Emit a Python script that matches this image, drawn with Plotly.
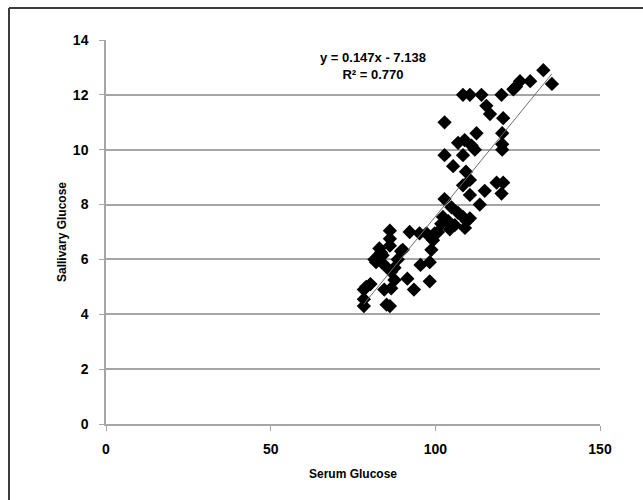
import plotly.graph_objects as go

serum = [132.8, 135.4, 128.8, 125.7, 123.7, 124.5, 120.1, 108.4, 110.5, 114.0,
         115.5, 116.6, 120.6, 112.5, 102.8, 108.9, 106.9, 111.0, 112.0, 108.4,
         102.8, 120.3, 120.3, 120.3, 105.4, 109.3, 110.5, 108.4, 115.0, 118.6,
         120.6, 120.1, 110.5, 113.5, 102.8, 104.9, 106.9, 108.4, 110.5, 102.3,
         103.9, 105.9, 104.4, 109.0, 109.5, 101.8, 100.8, 99.3, 99.8, 97.3,
         95.2, 92.2, 98.8, 86.2, 86.2, 86.2, 90.1, 89.6, 83.0, 83.5,
         81.5, 84.5, 88.6, 87.6, 86.6, 95.5, 98.3, 91.5, 87.6, 98.3,
         93.5, 80.3, 79.0, 78.3, 84.5, 86.6, 78.3, 78.3, 85.2, 86.2,
         82.0, 84.0]
saliva = [12.9, 12.4, 12.5, 12.5, 12.2, 12.3, 12.0, 12.0, 12.0, 12.0,
          11.6, 11.3, 11.15, 10.6, 11.0, 10.35, 10.25, 10.15, 10.0, 9.8,
          9.8, 10.6, 10.2, 10.0, 9.4, 9.2, 8.9, 8.7, 8.5, 8.8,
          8.8, 8.4, 8.35, 8.0, 8.2, 7.9, 7.7, 7.55, 7.5, 7.55,
          7.4, 7.25, 7.1, 7.15, 7.4, 7.3, 7.0, 6.7, 6.95, 6.95,
          6.95, 7.0, 6.35, 7.05, 6.75, 6.5, 6.35, 6.3, 6.4, 6.25,
          6.0, 5.8, 6.0, 5.7, 5.55, 5.8, 5.9, 5.3, 5.25, 5.2,
          4.9, 5.1, 5.0, 4.9, 4.9, 4.95, 4.55, 4.3, 4.35, 4.3,
          5.9, 6.15]

slope = 0.147
intercept = -7.138
r2 = 0.770

x_ticks = [0, 50, 100, 150]
y_ticks = [0, 2, 4, 6, 8, 10, 12, 14]

FONT = "Liberation Sans, Arial, sans-serif"

xmin, xmax = min(serum), max(serum)
line_x = [xmin, xmax]
line_y = [slope * v + intercept for v in line_x]

fig = go.Figure()
fig.add_trace(go.Scatter(
    x=serum, y=saliva, mode="markers",
    marker=dict(symbol="diamond", size=11, color="black", line=dict(width=0)),
    showlegend=False))
fig.add_trace(go.Scatter(
    x=line_x, y=line_y, mode="lines",
    line=dict(color="#6e6e6e", width=1), showlegend=False))

sign = "-" if intercept < 0 else "+"
fig.add_annotation(
    x=81.1, y=13.05, xref="x", yref="y",
    text=f"<b>y = {slope:.3f}x {sign} {abs(intercept):.3f}</b><br><b>R² = {r2:.3f}</b>",
    showarrow=False, align="center",
    font=dict(family=FONT, size=13, color="black"))

L, R, T, B = 106, 43, 40, 76
pw, ph = 643 - L - R, 500 - T - B
def px2paper_x(px):
    return (px - L) / pw
def py2paper_y(py):
    return (500 - B - py) / ph

frame_color = "#3c3c3c"
fig.add_shape(type="line", xref="paper", yref="paper",
              x0=px2paper_x(9), y0=py2paper_y(8), x1=px2paper_x(645), y1=py2paper_y(8),
              line=dict(color=frame_color, width=2))
fig.add_shape(type="line", xref="paper", yref="paper",
              x0=px2paper_x(9), y0=py2paper_y(8), x1=px2paper_x(9), y1=py2paper_y(502),
              line=dict(color=frame_color, width=2))

fig.update_layout(
    width=643, height=500,
    margin=dict(l=L, r=R, t=T, b=B),
    paper_bgcolor="white", plot_bgcolor="white",
    font=dict(family=FONT, color="black"),
    xaxis=dict(
        range=[0, 150], tickvals=x_ticks, ticktext=[f"<b>{v}</b>" for v in x_ticks],
        showgrid=False, zeroline=False,
        showline=True, linecolor="#a6a6a6", linewidth=1.5,
        ticks="outside", ticklen=5, tickcolor="#a6a6a6",
        ticklabelstandoff=6,
        tickfont=dict(family=FONT, size=14, color="black"),
        title=dict(text="<b>Serum Glucose</b>", standoff=14,
                   font=dict(family=FONT, size=12, color="black")),
    ),
    yaxis=dict(
        range=[0, 14], tickvals=y_ticks, ticktext=[f"<b>{v}</b>" for v in y_ticks],
        showgrid=True, gridcolor="#a6a6a6",
        gridwidth=1.5, zeroline=False,
        showline=True, linecolor="#a6a6a6", linewidth=1.5,
        ticks="outside", ticklen=5, tickcolor="#a6a6a6",
        ticklabelstandoff=8,
        tickfont=dict(family=FONT, size=14, color="black"),
        title=dict(text="<b>Sallivary Glucose</b>", standoff=4,
                   font=dict(family=FONT, size=12, color="black")),
    ),
)

fig.write_html("out.html")
